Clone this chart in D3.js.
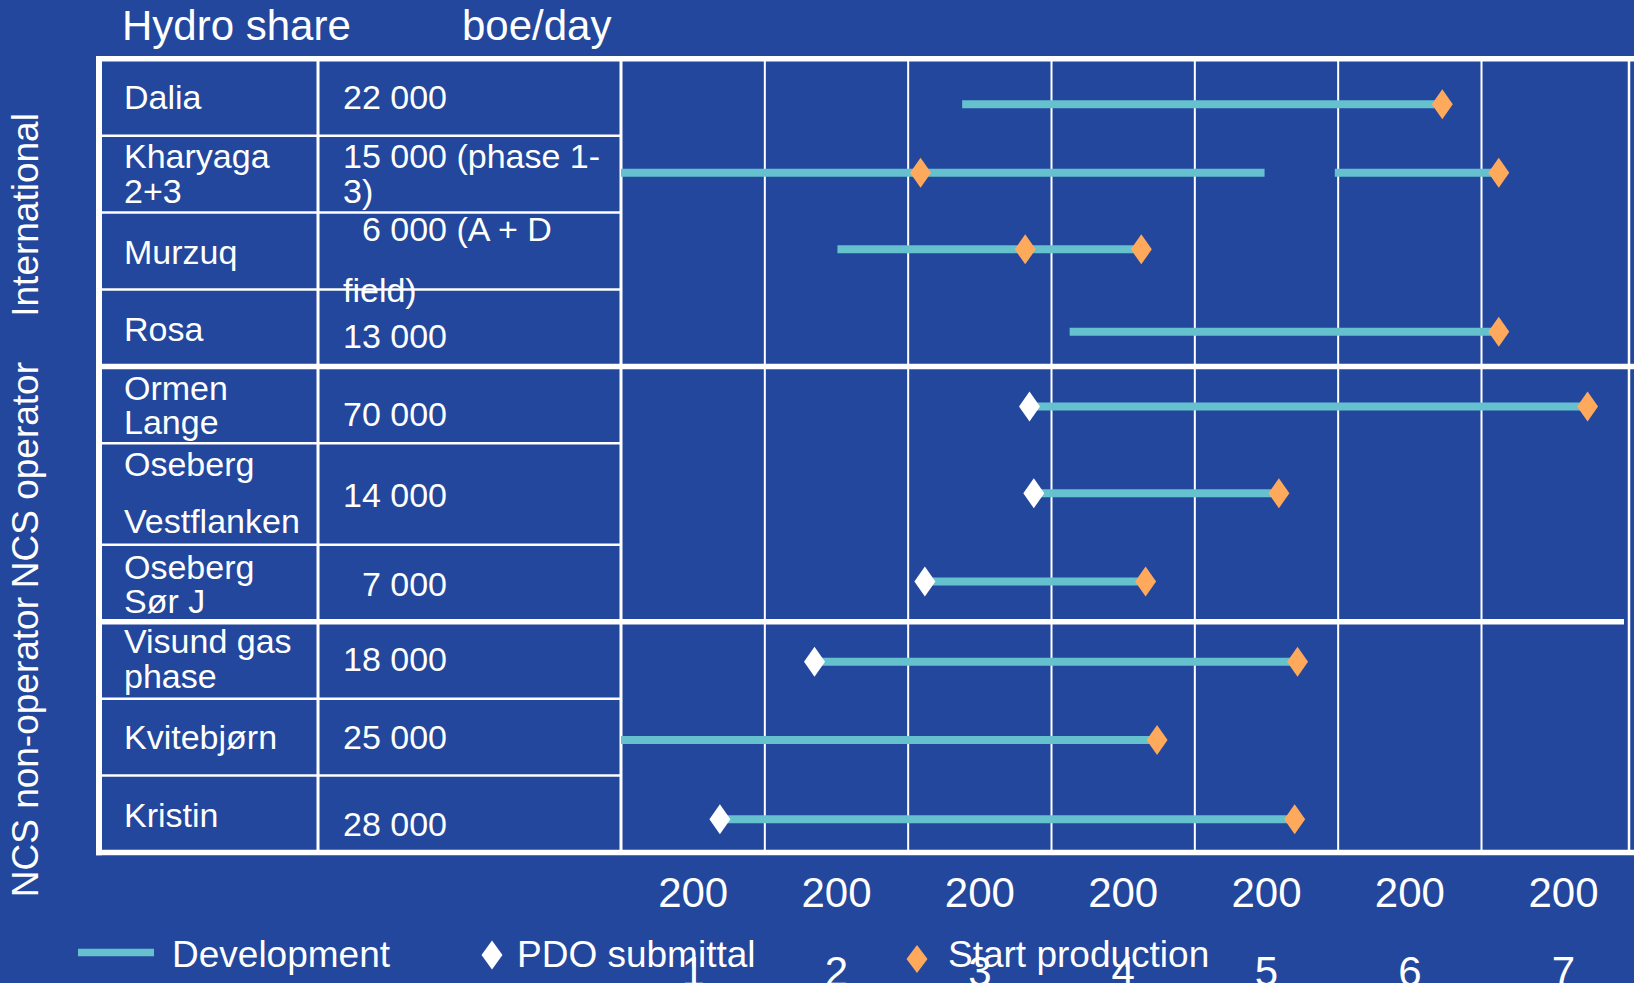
<!DOCTYPE html>
<html>
<head>
<meta charset="utf-8">
<script src="https://cdn.jsdelivr.net/npm/d3@7"></script>
<style>
  html, body { margin: 0; padding: 0; background: #22479C; overflow: hidden; }
  svg { display: block; }
  text { font-family: "Liberation Sans", Arial, Helvetica, sans-serif; fill: #fff; }
</style>
</head>
<body>
<svg id="chart" width="1634" height="983"></svg>
<script>
// ---- Data ---------------------------------------------------------------
const headers = ["Hydro share", "boe/day"];

const projects = [
  "Dalia", "Kharyaga\n2+3", "Murzuq", "Rosa",
  "Ormen\nLange", "Oseberg\nVestflanken", "Oseberg\nSør J",
  "Visund gas\nphase", "Kvitebjørn", "Kristin"
];

const boePerDay = [
  "22 000", "15 000 (phase 1-\n3)", "  6 000 (A + D\nfield)", "13 000",
  "70 000", "14 000", "  7 000",
  "18 000", "25 000", "28 000"
];

const sectionNames = ["International", "NCS operator", "NCS non-operator"];
const sectionFirstRow = [0, 4, 7];

// development periods (fractional years), one or more per project
const development = [
  [[2003.38, 2006.73]],
  [[2001.00, 2005.49], [2005.98, 2007.12]],
  [[2002.51, 2004.63]],
  [[2004.13, 2007.12]],
  [[2003.85, 2007.72]],
  [[2003.88, 2005.59]],
  [[2003.12, 2004.66]],
  [[2002.35, 2005.72]],
  [[2001.00, 2004.74]],
  [[2001.69, 2005.70]]
];

const pdoSubmittal = [null, null, null, null, 2003.85, 2003.88, 2003.12, 2002.35, null, 2001.69];

const startProduction = [
  [2006.73], [2003.09, 2007.12], [2003.82, 2004.63], [2007.12],
  [2007.72], [2005.59], [2004.66],
  [2005.72], [2004.74], [2005.70]
];

const years = [2001, 2002, 2003, 2004, 2005, 2006, 2007];

const legendLabels = ["Development", "PDO submittal", "Start production"];

// ---- Layout -------------------------------------------------------------
const COLORS = { bar: "#66C1CF", start: "#FFA95C", pdo: "#FFFFFF", line: "#FFFFFF" };
const FONT = { header: 42, cell: 34, side: 37, tick: 42, legend: 37 };

const tableLeft = 99, nameX = 124, boeX = 343, boeColLine = 318;
const tableTop = 58.8, tableBottom = 852.5, tableRight = 1629;

// relative row heights (the Vestflanken row is taller)
const rowWeights = [1, 1, 1, 1, 1, 1.32, 1, 1, 1, 1];
// text baselines measured from the top of each row
const nameBaselines = [[50.5], [32.6, 67.6], [51.3], [51], [33.8, 67.2], [32.3, 90], [34, 68.4], [31.3, 66.3], [50], [51.7]];
const boeBaselines  = [[50.5], [32.6, 67.6], [28, 89.7], [58.7], [59.5], [63.3], [50.7], [49.7], [50], [60]];
// vertical nudge of each timeline from its row's middle
const markShift = [7, -1.5, -1.7, 3.7, 1.7, -0.8, -1.7, 1.4, 2.9, 5.3];
const sideLabelShift = [2.3, -19, 10];
const tickShift = [0, 0, 0, 0, 0, 0, 8];

const x = d3.scaleLinear()
  .domain([2001, 2007, 2008])
  .range([621, 1481, 1629]);

const unit = (tableBottom - tableTop) / d3.sum(rowWeights);
const rowTops = [tableTop];
rowWeights.forEach((w, i) => rowTops.push(rowTops[i] + w * unit));
const rowMid = i => (rowTops[i] + rowTops[i + 1]) / 2 + markShift[i];

const svg = d3.select("#chart");

// ---- Header -------------------------------------------------------------
svg.selectAll("text.header")
  .data(headers)
  .join("text")
  .attr("class", "header")
  .attr("x", (d, i) => [122, 462][i])
  .attr("y", 40)
  .attr("font-size", FONT.header)
  .text(d => d);

// ---- Vertical year grid -------------------------------------------------
const grid = svg.append("g")
  .attr("transform", `translate(0,${tableBottom})`)
  .call(d3.axisBottom(x)
    .tickValues(years.slice(1))
    .tickSize(-(tableBottom - tableTop))
    .tickFormat(""));
grid.select(".domain").remove();
grid.selectAll(".tick line").attr("stroke", COLORS.line).attr("stroke-width", 2);

// ---- Table lines --------------------------------------------------------
const lines = svg.append("g").attr("stroke", COLORS.line);

// thin row separators inside the label columns
const sectionBreaks = sectionFirstRow.slice(1);
lines.selectAll("line.row")
  .data(d3.range(1, projects.length).filter(i => !sectionBreaks.includes(i)))
  .join("line")
  .attr("x1", tableLeft).attr("x2", x(2001))
  .attr("y1", i => rowTops[i]).attr("y2", i => rowTops[i])
  .attr("stroke-width", 2.5);

// column separators
lines.selectAll("line.col")
  .data([boeColLine, x(2001)])
  .join("line")
  .attr("x1", d => d).attr("x2", d => d)
  .attr("y1", tableTop).attr("y2", tableBottom)
  .attr("stroke-width", 3);

// section separators
lines.selectAll("line.section")
  .data(sectionBreaks)
  .join("line")
  .attr("x1", tableLeft + 2)
  .attr("x2", (d, i) => i === 0 ? 1634 : 1624)
  .attr("y1", i => rowTops[i]).attr("y2", i => rowTops[i])
  .attr("stroke-width", 5.5);

// outer frame
lines.append("line").attr("x1", tableLeft - 3).attr("x2", 1634)
  .attr("y1", tableTop).attr("y2", tableTop).attr("stroke-width", 5.5);
lines.append("line").attr("x1", tableLeft - 3).attr("x2", 1634)
  .attr("y1", tableBottom).attr("y2", tableBottom).attr("stroke-width", 5.5);
lines.append("line").attr("x1", tableLeft).attr("x2", tableLeft)
  .attr("y1", tableTop).attr("y2", tableBottom + 2.7).attr("stroke-width", 6);
lines.append("line").attr("x1", tableRight).attr("x2", tableRight)
  .attr("y1", tableTop).attr("y2", tableBottom).attr("stroke-width", 2.5);

// ---- Table text ---------------------------------------------------------
function cellText(cls, values, baselines, xPos) {
  svg.selectAll("text." + cls)
    .data(values)
    .join("text")
    .attr("class", cls)
    .attr("font-size", FONT.cell)
    .style("white-space", "pre")
    .each(function (d, i) {
      d3.select(this).selectAll("tspan")
        .data(d.split("\n"))
        .join("tspan")
        .attr("x", xPos)
        .attr("y", (s, j) => rowTops[i] + baselines[i][j])
        .text(s => s);
    });
}
cellText("name", projects, nameBaselines, nameX);
cellText("boe", boePerDay, boeBaselines, boeX);

// ---- Section labels (rotated) -------------------------------------------
svg.selectAll("text.side")
  .data(sectionNames)
  .join("text")
  .attr("class", "side")
  .attr("font-size", FONT.side)
  .attr("text-anchor", "middle")
  .attr("transform", (d, i) => {
    const first = sectionFirstRow[i];
    const last = i + 1 < sectionFirstRow.length ? sectionFirstRow[i + 1] : projects.length;
    const cy = (rowTops[first] + rowTops[last]) / 2 + sideLabelShift[i];
    return `translate(38,${cy}) rotate(-90)`;
  })
  .text(d => d);

// ---- Development bars ---------------------------------------------------
const diamond = (w, h) => `M0,${-h / 2}L${w / 2},0L0,${h / 2}L${-w / 2},0Z`;

const segs = development.flatMap((list, i) => list.map(s => ({ row: i, from: s[0], to: s[1] })));
svg.append("g").selectAll("line")
  .data(segs)
  .join("line")
  .attr("x1", d => x(d.from)).attr("x2", d => x(d.to))
  .attr("y1", d => rowMid(d.row)).attr("y2", d => rowMid(d.row))
  .attr("stroke", COLORS.bar)
  .attr("stroke-width", 8);

// ---- Milestones ---------------------------------------------------------
const pdoPts = pdoSubmittal.map((v, i) => ({ row: i, year: v })).filter(d => d.year !== null);
svg.append("g").selectAll("path")
  .data(pdoPts)
  .join("path")
  .attr("d", diamond(21, 30))
  .attr("transform", d => `translate(${x(d.year)},${rowMid(d.row)})`)
  .attr("fill", COLORS.pdo);

const startPts = startProduction.flatMap((list, i) => list.map(v => ({ row: i, year: v })));
svg.append("g").selectAll("path")
  .data(startPts)
  .join("path")
  .attr("d", diamond(21, 30))
  .attr("transform", d => `translate(${x(d.year)},${rowMid(d.row)})`)
  .attr("fill", COLORS.start);

// ---- Year labels (wrapped: "200" over the last digit) -------------------
const axis = svg.append("g")
  .call(d3.axisBottom(x)
    .tickValues(years.map(y => y + 0.5))
    .tickSize(0)
    .tickFormat(d => String(Math.floor(d))));
axis.select(".domain").remove();
axis.attr("font-family", null).attr("font-size", FONT.tick);
axis.selectAll(".tick text")
  .attr("fill", "#fff")
  .attr("y", null).attr("dy", null)
  .each(function (d, i) {
    const s = d3.select(this).text();
    const t = d3.select(this).text(null);
    t.append("tspan").attr("x", tickShift[i]).attr("y", 907).text(s.slice(0, 3));
    t.append("tspan").attr("x", tickShift[i]).attr("y", 986).text(s.slice(3));
  });

// ---- Legend -------------------------------------------------------------
const legend = svg.append("g");
legend.append("line")
  .attr("x1", 78).attr("x2", 154).attr("y1", 952.5).attr("y2", 952.5)
  .attr("stroke", COLORS.bar).attr("stroke-width", 7.5);
legend.append("path").attr("d", diamond(21, 29))
  .attr("transform", "translate(492,955)").attr("fill", COLORS.pdo);
legend.append("path").attr("d", diamond(21, 28))
  .attr("transform", "translate(917,959)").attr("fill", COLORS.start);
legend.selectAll("text")
  .data(legendLabels)
  .join("text")
  .attr("x", (d, i) => [172, 517, 948][i])
  .attr("y", 966.5)
  .attr("font-size", FONT.legend)
  .text(d => d);
</script>
</body>
</html>
